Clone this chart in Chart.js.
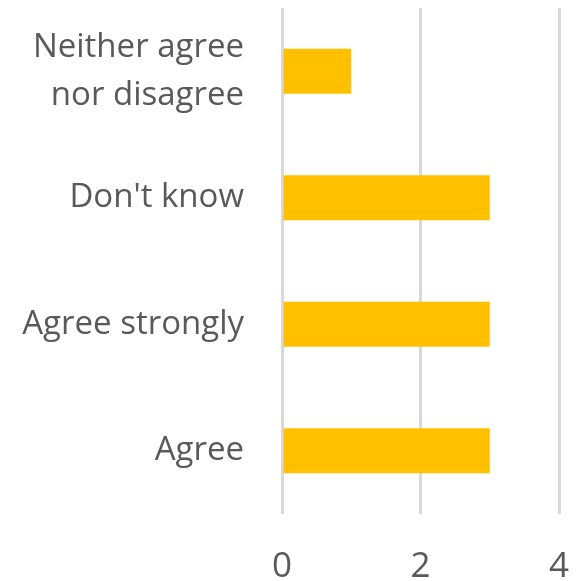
<!DOCTYPE html>
<html>
<head>
<meta charset="utf-8">
<script src="https://cdn.jsdelivr.net/npm/chart.js@4"></script>
<style>
  html, body { margin: 0; padding: 0; background: #fff; }
  #wrap { width: 577px; height: 581px; }
</style>
</head>
<body>
<div id="wrap"><canvas id="responses"></canvas></div>
<script>
var categories = [['Neither agree', 'nor disagree'], "Don't know", 'Agree strongly', 'Agree'];
var counts = [1, 3, 3, 3];
var xTicks = [0, 2, 4];

var ctx = document.getElementById('responses');
var chart = new Chart(ctx, {
    type: 'bar',
    data: {
        labels: categories,
        datasets: [
            {
                label: 'Responses',
                backgroundColor: '#FFC000',
                borderWidth: 0,
                barPercentage: 0.712,
                categoryPercentage: 0.5,
                data: counts
            }
        ]
    },
    options: {
        indexAxis: 'y',
        responsive: true,
        maintainAspectRatio: false,
        animation: false,
        layout: { padding: { top: 8, right: 18, left: 0, bottom: 0 } },
        plugins: { legend: { display: false }, tooltip: { enabled: false } },
        scales: {
            x: {
                min: 0,
                max: 4,
                afterBuildTicks: function(axis) {
                    axis.ticks = xTicks.map(function(v) { return { value: v }; });
                },
                grid: { color: '#D9D9D9', lineWidth: 3, drawTicks: false },
                border: { display: false },
                ticks: {
                    color: '#595959',
                    font: { family: 'Open Sans', size: 35, lineHeight: 1.2 },
                    padding: 32
                },
                afterFit: function(axis) {
                    axis.height = 67;
                    axis.paddingLeft = 0;
                    axis.paddingRight = 0;
                }
            },
            y: {
                grid: { display: false },
                border: { display: false },
                ticks: {
                    color: '#595959',
                    font: { family: 'Open Sans', size: 33, lineHeight: 1.45 },
                    padding: 30
                },
                afterFit: function(axis) {
                    axis.width = 282;
                    axis.paddingTop = 0;
                    axis.paddingBottom = 0;
                }
            }
        }
    }
});
</script>
</body>
</html>
